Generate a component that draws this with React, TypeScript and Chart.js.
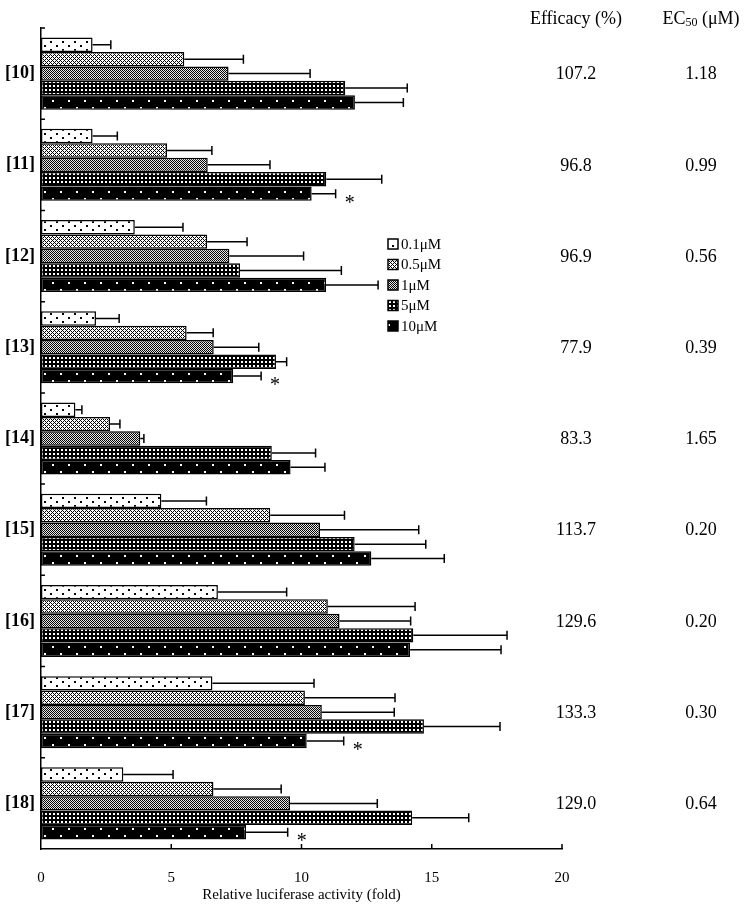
import React, { useEffect, useRef } from 'react';
import { Chart, registerables } from 'chart.js';

Chart.register(...registerables);

const compounds = ['[10]', '[11]', '[12]', '[13]', '[14]', '[15]', '[16]', '[17]', '[18]'];
const doses = ['0.1\u03bcM', '0.5\u03bcM', '1\u03bcM', '5\u03bcM', '10\u03bcM'];

const mean01 = [1.98, 1.98, 3.6, 2.11, 1.32, 4.62, 6.79, 6.58, 3.16];
const mean05 = [5.5, 4.84, 6.38, 5.59, 2.65, 8.8, 11.01, 10.13, 6.62];
const mean1 = [7.2, 6.4, 7.23, 6.63, 3.81, 10.71, 11.46, 10.78, 9.56];
const mean5 = [11.68, 10.95, 7.64, 9.02, 8.86, 12.04, 14.29, 14.7, 14.25];
const mean10 = [12.05, 10.39, 10.94, 7.38, 9.58, 12.68, 14.17, 10.2, 7.87];

const sd01 = [0.7, 0.95, 1.85, 0.89, 0.25, 1.73, 2.64, 3.9, 1.91];
const sd05 = [2.27, 1.72, 1.53, 1.02, 0.38, 2.85, 3.35, 3.46, 2.6];
const sd1 = [3.13, 2.39, 2.85, 1.73, 0.14, 3.79, 2.73, 2.78, 3.35];
const sd5 = [2.38, 2.13, 3.89, 0.41, 1.68, 2.73, 3.6, 2.92, 2.17];
const sd10 = [1.86, 0.92, 2.0, 1.07, 1.32, 2.8, 3.49, 1.42, 1.6];

const significant10 = [false, true, false, true, false, false, false, true, true];

const efficacy = ['107.2', '96.8', '96.9', '77.9', '83.3', '113.7', '129.6', '133.3', '129.0'];
const ec50 = ['1.18', '0.99', '0.56', '0.39', '1.65', '0.20', '0.20', '0.30', '0.64'];

const xTicks = [0, 5, 10, 15, 20];

const SERIF = "'Liberation Serif', 'Times New Roman', serif";

function makePattern(kind: number): CanvasPattern | string {
  const c = document.createElement('canvas');
  let w = 4, h = 4;
  let bg = '#fff';
  let fg = '#000';
  let pix: [number, number, number, number][] = [];
  if (kind === 0) {
    w = 12; h = 8; bg = '#fff'; fg = '#000';
    pix = [[2, 1, 2, 2], [8, 5, 2, 2]];
  } else if (kind === 1) {
    w = 4; h = 4; bg = '#fff'; fg = '#000';
    pix = [[0, 0, 1, 1], [1, 1, 1, 1], [3, 1, 1, 1], [2, 2, 1, 1], [1, 3, 1, 1], [3, 3, 1, 1]];
  } else if (kind === 2) {
    w = 2; h = 2; bg = '#e8e8e8'; fg = '#000';
    pix = [[0, 0, 1, 1], [1, 1, 1, 1]];
  } else if (kind === 3) {
    w = 4; h = 4; bg = '#000'; fg = '#fff';
    pix = [[1, 1, 2, 2]];
  } else {
    w = 16; h = 14; bg = '#000'; fg = '#fff';
    pix = [[4, 2, 2, 2], [12, 9, 2, 2]];
  }
  c.width = w; c.height = h;
  const g = c.getContext('2d');
  if (!g) return bg;
  g.fillStyle = bg;
  g.fillRect(0, 0, w, h);
  g.fillStyle = fg;
  pix.forEach(([x, y, pw, ph]) => g.fillRect(x, y, pw, ph));
  const p = g.createPattern(c, 'repeat');
  return p || bg;
}

export default function App() {
  const ref = useRef<HTMLCanvasElement | null>(null);

  useEffect(() => {
    const canvas = ref.current;
    if (!canvas) return;
    const patterns = [0, 1, 2, 3, 4].map((k) => makePattern(k));
    const means = [mean01, mean05, mean1, mean5, mean10];
    const sds = [sd01, sd05, sd1, sd5, sd10];

    const extras = {
      id: 'extras',
      afterDatasetsDraw(chart: any) {
        const ctx = chart.ctx as CanvasRenderingContext2D;
        const xs = chart.scales.x;
        const ys = chart.scales.y;
        const area = chart.chartArea;
        ctx.save();
        // error bars
        ctx.strokeStyle = '#000';
        ctx.lineWidth = 1.5;
        means.forEach((m, di) => {
          const meta = chart.getDatasetMeta(di);
          meta.data.forEach((el: any, i: number) => {
            const x0 = xs.getPixelForValue(m[i]);
            const x1 = xs.getPixelForValue(m[i] + sds[di][i]);
            const y = el.y;
            ctx.beginPath();
            ctx.moveTo(x0, y);
            ctx.lineTo(x1, y);
            ctx.moveTo(x1, y - 4.5);
            ctx.lineTo(x1, y + 4.5);
            ctx.stroke();
          });
        });
        // asterisks
        ctx.fillStyle = '#000';
        ctx.font = `20px ${SERIF}`;
        ctx.textAlign = 'center';
        ctx.textBaseline = 'middle';
        const meta10 = chart.getDatasetMeta(4);
        significant10.forEach((s, i) => {
          if (!s) return;
          const el = meta10.data[i];
          const x1 = xs.getPixelForValue(mean10[i] + sd10[i]);
          ctx.fillText('*', x1 + 14, el.y + 10);
        });
        // inward ticks
        ctx.lineWidth = 1.5;
        ctx.beginPath();
        xTicks.forEach((v) => {
          if (v === 0) return;
          const x = xs.getPixelForValue(v);
          ctx.moveTo(x, area.bottom);
          ctx.lineTo(x, area.bottom - 5);
        });
        for (let i = 0; i < compounds.length; i++) {
          const y = ys.getPixelForValue(i - 0.5);
          ctx.moveTo(area.left, y);
          ctx.lineTo(area.left + 4, y);
        }
        ctx.stroke();
        // legend
        const lx = 388;
        const ly = 244;
        const step = 20.5;
        ctx.textAlign = 'left';
        ctx.font = `15px ${SERIF}`;
        doses.forEach((d, i) => {
          const cy = ly + i * step;
          ctx.fillStyle = patterns[i] as any;
          ctx.fillRect(lx, cy - 5, 10, 10);
          ctx.strokeStyle = '#000';
          ctx.lineWidth = 1.5;
          ctx.strokeRect(lx, cy - 5, 10, 10);
          ctx.fillStyle = '#000';
          ctx.fillText(d, lx + 13, cy + 1);
        });
        // right columns
        ctx.font = `18px ${SERIF}`;
        ctx.textAlign = 'center';
        ctx.fillText('Efficacy (%)', 576, 19);
        // EC50 header with subscript
        const big = `18px ${SERIF}`;
        const small = `12px ${SERIF}`;
        ctx.font = big;
        const wEC = ctx.measureText('EC').width;
        const wTail = ctx.measureText(' (\u03bcM)').width;
        ctx.font = small;
        const w50 = ctx.measureText('50').width;
        const total = wEC + w50 + wTail;
        let hx = 701 - total / 2;
        ctx.textAlign = 'left';
        ctx.font = big;
        ctx.fillText('EC', hx, 19);
        hx += wEC;
        ctx.font = small;
        ctx.fillText('50', hx, 23);
        hx += w50;
        ctx.font = big;
        ctx.fillText(' (\u03bcM)', hx, 19);
        ctx.textAlign = 'center';
        compounds.forEach((_, i) => {
          const y = ys.getPixelForValue(i);
          ctx.fillText(efficacy[i], 576, y + 1);
          ctx.fillText(ec50[i], 701, y + 1);
        });
        ctx.restore();
      },
    };

    const chart = new Chart(canvas, {
      type: 'bar',
      data: {
        labels: compounds,
        datasets: doses.map((d, i) => ({
          label: d,
          data: means[i],
          backgroundColor: patterns[i] as any,
          borderColor: '#000',
          borderWidth: 1.5,
          borderSkipped: false,
          categoryPercentage: 0.79,
          barPercentage: 1.0,
        })),
      },
      options: {
        indexAxis: 'y',
        responsive: false,
        maintainAspectRatio: false,
        animation: false,
        layout: { padding: { top: 28, right: 183, left: 0, bottom: 0 } },
        plugins: {
          legend: { display: false },
          tooltip: { enabled: false },
        },
        scales: {
          x: {
            type: 'linear',
            position: 'bottom',
            min: 0,
            max: 20,
            afterBuildTicks: (s: any) => {
              s.ticks = xTicks.map((v) => ({ value: v }));
            },
            ticks: {
              color: '#000',
              font: { family: SERIF, size: 15 },
              padding: 20,
            },
            grid: { display: false, drawTicks: false },
            border: { display: true, color: '#000', width: 1.5 },
            title: {
              display: true,
              text: 'Relative luciferase activity (fold)',
              color: '#000',
              font: { family: SERIF, size: 15 },
              padding: { top: 0, bottom: 3 },
            },
            afterFit: (s: any) => {
              s.height = 58;
            },
          },
          y: {
            type: 'category',
            offset: true,
            ticks: {
              color: '#000',
              font: { family: SERIF, size: 18, weight: 'bold' },
              padding: 6,
            },
            grid: { display: false, drawTicks: false },
            border: { display: true, color: '#000', width: 1.5 },
            afterFit: (s: any) => {
              s.width = 41;
            },
          },
        },
      } as any,
      plugins: [extras],
    });
    return () => chart.destroy();
  }, []);

  return (
    <div style={{ position: 'absolute', left: 0, top: 0, width: 745, height: 907, background: '#fff' }}>
      <canvas ref={ref} width={745} height={907} style={{ display: 'block', width: 745, height: 907 }} />
    </div>
  );
}
